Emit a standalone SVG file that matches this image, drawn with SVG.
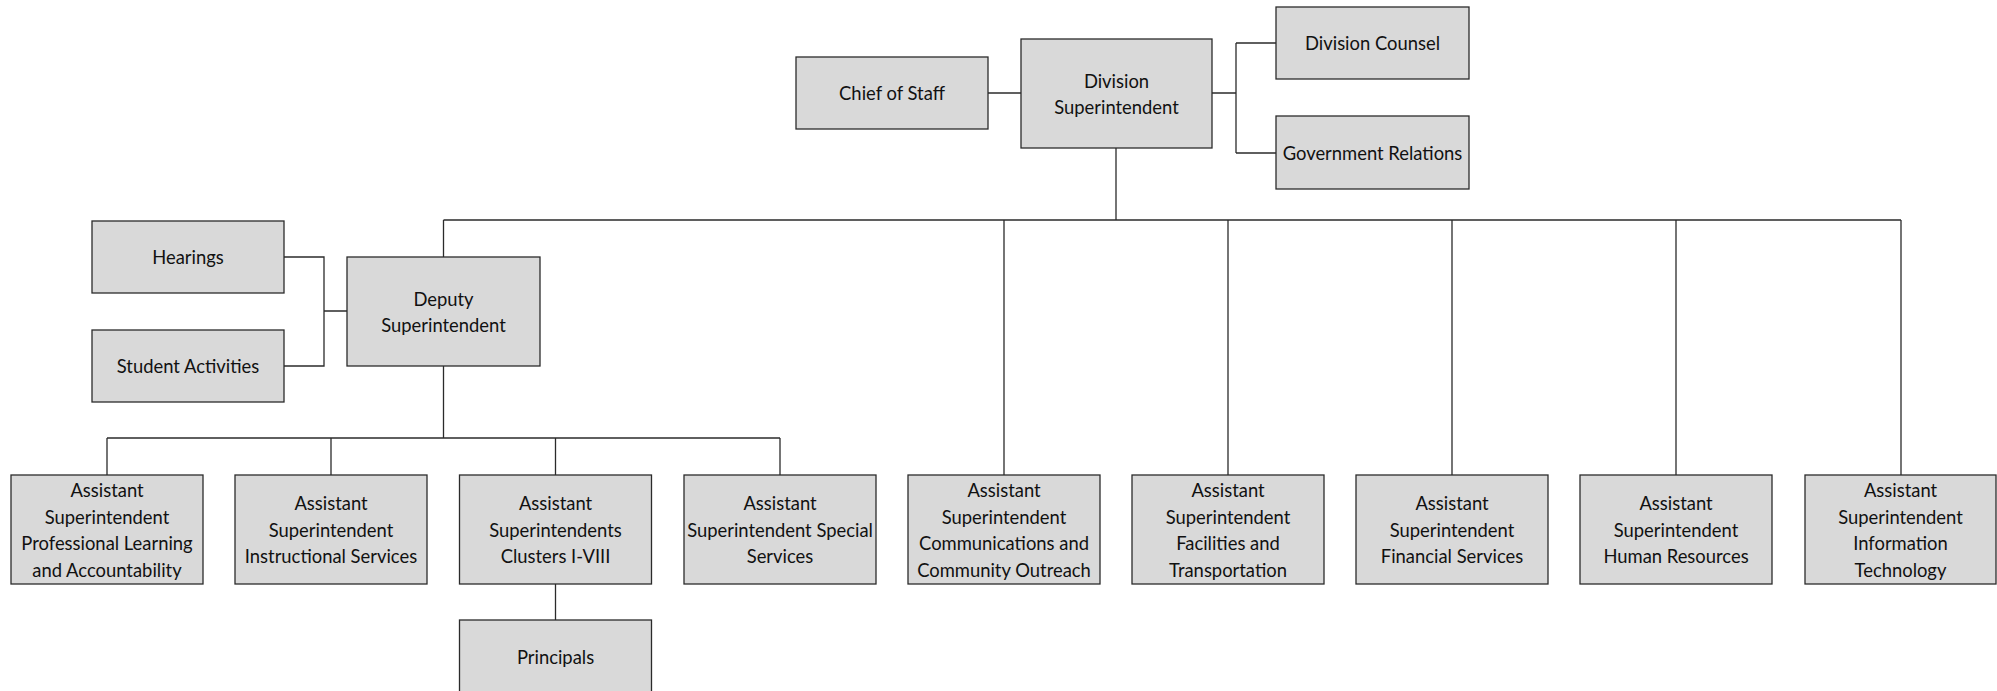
<svg xmlns="http://www.w3.org/2000/svg" width="1997" height="691" viewBox="0 0 1997 691">
  <style>
    .box { fill: #d9d9d9; stroke: #2b2b2b; stroke-width: 1.3; }
    .lbl { font-family: Lato, "Liberation Sans", sans-serif; font-size: 18.4px; fill: #111; text-anchor: middle; dominant-baseline: central; }
    .wire { fill: none; stroke: #2b2b2b; stroke-width: 1.3; }
  </style>
  <rect width="1997" height="691" fill="#ffffff"/>

  <!-- connectors -->
  <g id="connectors" class="wire">
    <path d="M988 93 H1021"/>
    <path d="M1212 93 H1236 M1236 43 V153 M1236 43 H1276 M1236 153 H1276"/>
    <path d="M1116 148 V220 M443.5 220 H1901"/>
    <path d="M443.5 220 V257 M1004 220 V475 M1228 220 V475 M1452 220 V475 M1676 220 V475 M1901 220 V475"/>
    <path d="M284 257 H324 V366 H284 M324 311 H347"/>
    <path d="M443.5 366 V438 M107 438 H780 M107 438 V475 M331 438 V475 M555.5 438 V475 M780 438 V475"/>
    <path d="M555.5 584 V620"/>
  </g>

  <!-- top level -->
  <g id="division-superintendent">
    <rect class="box" x="1021" y="39" width="191" height="109"/>
    <text class="lbl" x="1116.5" y="80.5">Division</text>
    <text class="lbl" x="1116.5" y="107">Superintendent</text>
  </g>
  <g id="chief-of-staff">
    <rect class="box" x="796" y="57" width="192" height="72"/>
    <text class="lbl" x="892" y="93">Chief of Staff</text>
  </g>
  <g id="division-counsel">
    <rect class="box" x="1276" y="7" width="193" height="72"/>
    <text class="lbl" x="1372.5" y="43">Division Counsel</text>
  </g>
  <g id="government-relations">
    <rect class="box" x="1276" y="116" width="193" height="73"/>
    <text class="lbl" x="1372.5" y="152.5">Government Relations</text>
  </g>

  <!-- deputy branch -->
  <g id="deputy-superintendent">
    <rect class="box" x="347" y="257" width="193" height="109"/>
    <text class="lbl" x="443.5" y="298.5">Deputy</text>
    <text class="lbl" x="443.5" y="325">Superintendent</text>
  </g>
  <g id="hearings">
    <rect class="box" x="92" y="221" width="192" height="72"/>
    <text class="lbl" x="188" y="257">Hearings</text>
  </g>
  <g id="student-activities">
    <rect class="box" x="92" y="330" width="192" height="72"/>
    <text class="lbl" x="188" y="366">Student Activities</text>
  </g>

  <!-- assistant superintendents -->
  <g id="as-professional-learning">
    <rect class="box" x="11" y="475" width="192" height="109"/>
    <text class="lbl" x="107" y="490">Assistant</text>
    <text class="lbl" x="107" y="516.5">Superintendent</text>
    <text class="lbl" x="107" y="543">Professional Learning</text>
    <text class="lbl" x="107" y="569.5">and Accountability</text>
  </g>
  <g id="as-instructional-services">
    <rect class="box" x="235" y="475" width="192" height="109"/>
    <text class="lbl" x="331" y="503">Assistant</text>
    <text class="lbl" x="331" y="529.5">Superintendent</text>
    <text class="lbl" x="331" y="556">Instructional Services</text>
  </g>
  <g id="as-clusters">
    <rect class="box" x="459.5" y="475" width="192" height="109"/>
    <text class="lbl" x="555.5" y="503">Assistant</text>
    <text class="lbl" x="555.5" y="529.5">Superintendents</text>
    <text class="lbl" x="555.5" y="556">Clusters I-VIII</text>
  </g>
  <g id="principals">
    <rect class="box" x="459.5" y="620" width="192" height="109"/>
    <text class="lbl" x="555.5" y="657">Principals</text>
  </g>
  <g id="as-special-services">
    <rect class="box" x="684" y="475" width="192" height="109"/>
    <text class="lbl" x="780" y="503">Assistant</text>
    <text class="lbl" x="780" y="529.5">Superintendent Special</text>
    <text class="lbl" x="780" y="556">Services</text>
  </g>
  <g id="as-communications">
    <rect class="box" x="908" y="475" width="192" height="109"/>
    <text class="lbl" x="1004" y="490">Assistant</text>
    <text class="lbl" x="1004" y="516.5">Superintendent</text>
    <text class="lbl" x="1004" y="543">Communications and</text>
    <text class="lbl" x="1004" y="569.5">Community Outreach</text>
  </g>
  <g id="as-facilities">
    <rect class="box" x="1132" y="475" width="192" height="109"/>
    <text class="lbl" x="1228" y="490">Assistant</text>
    <text class="lbl" x="1228" y="516.5">Superintendent</text>
    <text class="lbl" x="1228" y="543">Facilities and</text>
    <text class="lbl" x="1228" y="569.5">Transportation</text>
  </g>
  <g id="as-financial-services">
    <rect class="box" x="1356" y="475" width="192" height="109"/>
    <text class="lbl" x="1452" y="503">Assistant</text>
    <text class="lbl" x="1452" y="529.5">Superintendent</text>
    <text class="lbl" x="1452" y="556">Financial Services</text>
  </g>
  <g id="as-human-resources">
    <rect class="box" x="1580" y="475" width="192" height="109"/>
    <text class="lbl" x="1676" y="503">Assistant</text>
    <text class="lbl" x="1676" y="529.5">Superintendent</text>
    <text class="lbl" x="1676" y="556">Human Resources</text>
  </g>
  <g id="as-information-technology">
    <rect class="box" x="1805" y="475" width="191" height="109"/>
    <text class="lbl" x="1900.5" y="490">Assistant</text>
    <text class="lbl" x="1900.5" y="516.5">Superintendent</text>
    <text class="lbl" x="1900.5" y="543">Information</text>
    <text class="lbl" x="1900.5" y="569.5">Technology</text>
  </g>
</svg>
